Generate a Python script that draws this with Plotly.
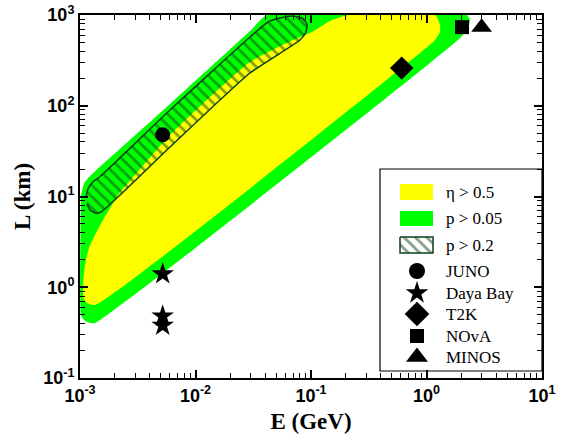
import plotly.graph_objects as go

# ---------------- data (E in GeV, L in km) ----------------
# p > 0.05 region (green)
green_E = [1.020e-3, 1.020e-3, 1.083e-3, 1.221e-3, 1.349e-3, 1.950, 2.287, 2.380, 2.242,
           4.159e-2, 2.964e-2, 6.015e-3, 1.349e-3, 1.196e-3, 1.083e-3]
green_L = [10.39, 0.494, 0.4355, 0.4037, 0.4037, 558, 719, 881, 1000,
           1000, 666.2, 104.5, 18.9, 16.4, 14.0]

# eta > 0.5 region (yellow)
yellow_E = [1.062e-3, 1.105e-3, 1.196e-3, 1.349e-3, 1.582e-3, 1.892e-3, 2.218e-3, 2.603e-3,
            6.015e-3, 2.964e-2, 6.987e-2, 0.1020, 0.1461, 0.2091, 1.185, 1.309, 1.309,
            1.185, 0.878, 1.349e-3, 1.150e-3, 1.062e-3]
yellow_L = [1.114, 1.759, 2.707, 3.765, 5.508, 8.059, 11.21, 14.09,
            47.61, 303.4, 530.2, 649.6, 858.9, 1000, 1000, 776, 650,
            530, 381, 0.637, 0.671, 0.761]

# p > 0.2 region (hatched)
hatch_E = [1.127e-3, 1.173e-3, 1.296e-3, 1.490e-3, 6.015e-3, 2.964e-2, 4.243e-2,
           5.39e-2, 6.848e-2, 8.36e-2, 9.23e-2, 9.05e-2, 8.03e-2, 2.964e-2, 6.015e-3,
           1.520e-3, 1.349e-3, 1.221e-3, 1.150e-3]
hatch_L = [9.874, 12.1, 14.55, 16.55, 89.79, 572.3, 837.4,
           926.6, 975, 926.6, 795.7, 649.6, 530.2, 229.6, 35.12,
           6.747, 6.579, 7.099, 8.268]

# experiments
exp_names = ["JUNO", "Daya Bay", "T2K", "NOvA", "MINOS"]
exp_symbols = ["circle", "star", "diamond", "square", "triangle-up"]
exp_E = [[5.2e-3], [5.2e-3, 5.2e-3, 5.2e-3], [0.61], [2.03], [3.0]]
exp_L = [[48], [1.40, 0.48, 0.38], [260], [735], [735]]
exp_sizes = [15, 17, 18, 14, 18]

legend_fill_labels = ["\u03b7 > 0.5", "p > 0.05", "p > 0.2"]

x_tickvals = [1e-3, 1e-2, 1e-1, 1, 10]
x_ticktext = ["<b>10<sup>-3</sup></b>", "<b>10<sup>-2</sup></b>", "<b>10<sup>-1</sup></b>",
              "<b>10<sup>0</sup></b>", "<b>10<sup>1</sup></b>"]
y_tickvals = [0.1, 1, 10, 100, 1000]
y_ticktext = ["<b>10<sup>-1</sup></b>", "<b>10<sup>0</sup></b>", "<b>10<sup>1</sup></b>",
              "<b>10<sup>2</sup></b>", "<b>10<sup>3</sup></b>"]

# ---------------- styles ----------------
YELLOW = "#FFFF00"
GREEN = "#00FF00"
DKGREEN = "#0c4019"
hatch_pattern = dict(shape="\\", fgcolor=DKGREEN, bgcolor="rgba(0,0,0,0)",
                     size=8, solidity=0.35, fillmode="overlay")

fig = go.Figure()

fig.add_trace(go.Scatter(x=green_E, y=green_L, fill="toself", fillcolor=GREEN,
                         mode="lines", line=dict(width=0, color=GREEN, shape="spline",
                                                 smoothing=0.5),
                         hoverinfo="skip", showlegend=False))
fig.add_trace(go.Scatter(x=yellow_E, y=yellow_L, fill="toself", fillcolor=YELLOW,
                         mode="lines", line=dict(width=0, color=YELLOW, shape="spline",
                                                 smoothing=0.5),
                         hoverinfo="skip", showlegend=False))
fig.add_trace(go.Scatter(x=hatch_E, y=hatch_L, fill="toself", fillcolor="rgba(0,0,0,0)",
                         fillpattern=hatch_pattern,
                         mode="lines", line=dict(width=1.5, color=DKGREEN, shape="spline",
                                                 smoothing=0.5),
                         hoverinfo="skip", showlegend=False))

for name, sym, ex, ly, sz in zip(exp_names, exp_symbols, exp_E, exp_L, exp_sizes):
    fig.add_trace(go.Scatter(x=ex, y=ly, mode="markers", name=name,
                             marker=dict(symbol=sym, size=sz, color="black",
                                         line=dict(width=0)),
                             showlegend=False))

# ---------------- custom legend (pixel-like overlay axes) ----------------
LX0, LX1, LY0, LY1 = 380, 542, 169, 371
fig.add_shape(type="rect", xref="x2", yref="y2", x0=LX0, x1=LX1, y0=LY0, y1=LY1,
              line=dict(color="black", width=1.2), fillcolor="white", layer="below")
sw_x0, sw_x1 = 400, 433
sw_rows = [(184, 200), (211, 226), (237, 253)]
text_y = [192, 218, 245, 271, 293, 314, 336, 357]
fig.add_shape(type="rect", xref="x2", yref="y2", x0=sw_x0, x1=sw_x1,
              y0=sw_rows[0][0], y1=sw_rows[0][1], line=dict(width=0), fillcolor=YELLOW)
fig.add_shape(type="rect", xref="x2", yref="y2", x0=sw_x0, x1=sw_x1,
              y0=sw_rows[1][0], y1=sw_rows[1][1], line=dict(width=0), fillcolor=GREEN)
hy0, hy1 = sw_rows[2]
fig.add_trace(go.Scatter(x=[sw_x0, sw_x1, sw_x1, sw_x0, sw_x0], y=[hy0, hy0, hy1, hy1, hy0],
                         xaxis="x2", yaxis="y2", fill="toself", fillcolor="rgba(0,0,0,0)",
                         fillpattern=hatch_pattern, mode="lines",
                         line=dict(width=1.5, color=DKGREEN), hoverinfo="skip",
                         showlegend=False))
leg_marker_sizes = [16, 17, 19, 14, 19]
for i, (sym, sz) in enumerate(zip(exp_symbols, leg_marker_sizes)):
    fig.add_trace(go.Scatter(x=[417], y=[text_y[3 + i]], xaxis="x2", yaxis="y2",
                             mode="markers", marker=dict(symbol=sym, size=sz, color="black"),
                             hoverinfo="skip", showlegend=False))
for lbl, ty in zip(legend_fill_labels + exp_names, text_y):
    fig.add_annotation(x=444, y=ty, xref="x2", yref="y2", text=lbl, showarrow=False,
                       xanchor="left", yanchor="middle",
                       font=dict(family="Liberation Serif", size=17, color="black"))

axis_common = dict(type="log", showline=True, linecolor="black", linewidth=2,
                   mirror="allticks", ticks="inside", ticklen=8, tickwidth=1.5,
                   tickcolor="black", showgrid=False, zeroline=False, automargin=False,
                   tickfont=dict(family="Liberation Sans", size=18, color="black"))

minor_x = [m * 10 ** d for d in range(-3, 1) for m in range(2, 10)]
minor_y = [m * 10 ** d for d in range(-1, 3) for m in range(2, 10)]

fig.update_layout(
    template="none",
    width=564, height=441,
    margin=dict(l=80, r=22, t=15, b=63),
    paper_bgcolor="white", plot_bgcolor="white",
    showlegend=False,
    xaxis=dict(**axis_common, range=[-3, 1], tickmode="array",
               tickvals=x_tickvals, ticktext=x_ticktext,
               minor=dict(tickmode="array", tickvals=minor_x, ticks="inside",
                          ticklen=5, tickwidth=1.2, tickcolor="black"),
               title=dict(text="<b>E (GeV)</b>", standoff=8,
                          font=dict(family="Liberation Serif", size=23, color="black"))),
    yaxis=dict(**axis_common, range=[-1, 3], tickmode="array",
               tickvals=y_tickvals, ticktext=y_ticktext,
               minor=dict(tickmode="array", tickvals=minor_y, ticks="inside",
                          ticklen=5, tickwidth=1.2, tickcolor="black"),
               title=dict(text="<b>L (km)</b>", standoff=6,
                          font=dict(family="Liberation Serif", size=23, color="black"))),
    xaxis2=dict(overlaying="x", range=[80, 542], visible=False, fixedrange=True),
    yaxis2=dict(overlaying="y", range=[378, 15], visible=False, fixedrange=True),
)

fig.write_html("out.html")
